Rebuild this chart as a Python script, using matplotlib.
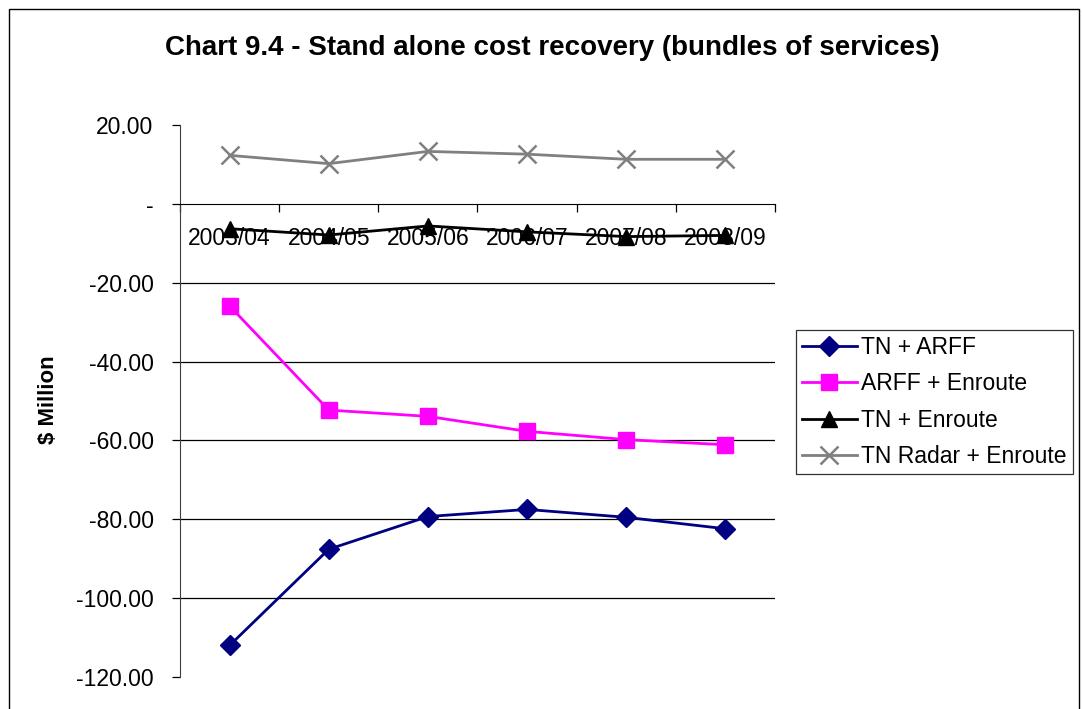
import matplotlib
matplotlib.use("Agg")
import matplotlib.pyplot as plt
from matplotlib.patches import Rectangle

plt.rcParams['font.family'] = ['Liberation Sans', 'DejaVu Sans']

categories = ["2003/04", "2004/05", "2005/06", "2006/07", "2007/08", "2008/09"]
tn_arff = [-112.0, -87.6, -79.3, -77.5, -79.5, -82.4]
arff_enroute = [-25.9, -52.3, -53.9, -57.7, -59.8, -61.1]
tn_enroute = [-6.3, -7.9, -5.6, -7.1, -8.3, -8.0]
tn_radar_enroute = [12.3, 10.2, 13.3, 12.6, 11.3, 11.3]
y_ticks = [20, 0, -20, -40, -60, -80, -100, -120]
y_tick_labels = ["20.00", "-", "-20.00", "-40.00", "-60.00", "-80.00", "-100.00", "-120.00"]

W, H = 1082, 709
FS = 16.5
fig = plt.figure(figsize=(W / 100, H / 100), dpi=100)
fig.patches.append(Rectangle((9 / W, -0.05), (1079 - 9) / W, 1 - 9 / H + 0.05,
                             transform=fig.transFigure, fill=False,
                             edgecolor='black', linewidth=1.0))

ax = fig.add_axes([180 / W, 1 - 677 / H, (775 - 180) / W, (677 - 125) / H])
x = list(range(len(categories)))

ax.plot(x, tn_arff, color='#000080', marker='D', markersize=10, linewidth=2, label='TN + ARFF')
ax.plot(x, arff_enroute, color='#FF00FF', marker='s', markersize=11, linewidth=2, label='ARFF + Enroute')
ax.plot(x, tn_enroute, color='black', marker='^', markersize=11, linewidth=2, label='TN + Enroute')
ax.plot(x, tn_radar_enroute, color='#808080', marker='x', markersize=13, markeredgewidth=1.8,
        linewidth=2, label='TN Radar + Enroute')

ax.set_xlim(-0.5, len(categories) - 0.5)
ax.set_ylim(-120, 20)

# gridlines
for v in y_ticks:
    if -120 < v < 0:
        ax.axhline(v, color='black', linewidth=0.9, zorder=0)

for s in ['top', 'right']:
    ax.spines[s].set_visible(False)
ax.spines['bottom'].set_position(('data', 0))
ax.spines['left'].set_bounds(-120, 20)
ax.spines['left'].set_color('#404040')
ax.spines['bottom'].set_color('black')

ax.set_yticks(y_ticks)
ax.set_yticklabels(y_tick_labels, fontsize=FS)
ax.tick_params(axis='y', direction='out', length=6, width=0.9, pad=13)

ax.set_xticks([i - 0.5 for i in range(len(categories) + 1)])
ax.set_xticklabels([])
ax.tick_params(axis='x', which='major', direction='out', length=6, width=0.9)
ax.set_xticks(x, minor=True)
ax.set_xticklabels(categories, minor=True, fontsize=FS)
ax.tick_params(axis='x', which='minor', length=0, pad=17)

fig.text(48 / W, 1 - 400 / H, '$ Million', rotation=90, ha='center', va='center',
         fontsize=16, fontweight='bold')

fig.text(552 / W, 1 - 55 / H, 'Chart 9.4 - Stand alone cost recovery (bundles of services)',
         ha='center', va='baseline', fontsize=20, fontweight='bold')

leg = fig.legend(loc='upper left', bbox_to_anchor=(796 / W, 1 - 330 / H),
                 bbox_transform=fig.transFigure, fontsize=FS, frameon=True,
                 fancybox=False, edgecolor='black', handlelength=2.4,
                 handletextpad=0.2, borderaxespad=0, labelspacing=0.59,
                 borderpad=0.25)
leg.get_frame().set_linewidth(0.9)

fig.savefig('out.png', dpi=100)
